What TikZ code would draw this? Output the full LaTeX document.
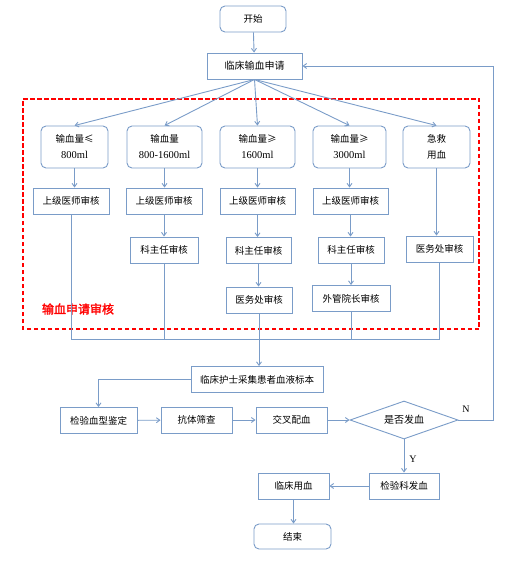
\documentclass[tikz,border=0pt]{standalone}
\usepackage{fontspec}
\setmainfont{Liberation Serif}
\newfontfamily\cjk[AutoFakeBold=2]{Noto Sans CJK SC}
\usetikzlibrary{shapes.geometric,arrows.meta}
\definecolor{flowblue}{HTML}{7A9CC8}
\definecolor{framered}{RGB}{255,0,0}
\tikzset{
  box/.style={draw=flowblue,line width=0.9pt,fill=white,inner sep=1pt,align=center,
    font=\cjk\fontsize{9.5}{16}\selectfont},
  rbox/.style={box,rounded corners=5pt},
  link/.style={draw=flowblue,line width=0.9pt},
  arr/.style={link,-{Straight Barb[length=3.5pt,width=5pt]}},
  frame/.style={color=framered,line width=1.1pt,dash pattern=on 4.5pt off 2.5pt}
}
\begin{document}
\begin{tikzpicture}[x=1pt,y=-1pt]
  \useasboundingbox (0,0) rectangle (523,561);
  % start and request
  \node[rbox,minimum width=66pt,minimum height=26pt] (start) at (253,19) {开始};
  \node[box,minimum width=95pt,minimum height=26pt,font=\cjk\fontsize{10}{12}\selectfont] (req) at (254.5,66) {临床输血申请};
  % amount of blood
  \foreach \name/\x/\w/\txt in {
    amt1/74.5/67/{输血量≤\\{\rmfamily\fontsize{10.5}{16}\selectfont 800ml}},
    amt2/164.5/75/{输血量\\{\rmfamily\fontsize{10.5}{16}\selectfont 800-1600ml}},
    amt3/257.5/75/{输血量≥\\{\rmfamily\fontsize{10.5}{16}\selectfont 1600ml}},
    amt4/349.5/73/{输血量≥\\{\rmfamily\fontsize{10.5}{16}\selectfont 3000ml}},
    amt5/436.5/67/{急救\\用血}} {
      \node[rbox,minimum width=\w pt,minimum height=42pt] (\name) at (\x,147) {\txt};
    }
  % review steps
  \foreach \name/\x/\y/\w/\txt in {
    sup1/71/201/76/上级医师审核,
    sup2/164/201/76/上级医师审核,
    sup3/257.5/201/75/上级医师审核,
    sup4/350.5/201/75/上级医师审核,
    dept2/164/250/68/科主任审核,
    dept3/258.5/250.5/65/科主任审核,
    dept4/351/250/66/科主任审核,
    med5/439.5/249/67/医务处审核,
    med3/259/300/66/医务处审核,
    dir4/351/298.5/78/外管院长审核} {
      \node[box,minimum width=\w pt,minimum height=26pt] (\name) at (\x,\y) {\txt};
    }
  % review frame
  \draw[frame] (23,99) -- (479,99) -- (479,329) -- (23,329) -- cycle;
  \node[text=framered,font=\cjk\bfseries\fontsize{12}{12}\selectfont] (title) at (78,309) {输血申请审核};
  % lab work
  \foreach \name/\x/\y/\w/\txt in {
    sample/257/379.5/132/临床护士采集患者血液标本,
    typing/98.5/420.5/77/检验血型鉴定,
    screen/196.5/420/71/抗体筛查,
    cross/291.5/420/71/交叉配血,
    release/404/486/70/检验科发血,
    use/293.5/486/71/临床用血} {
      \node[box,minimum width=\w pt,minimum height=26pt] (\name) at (\x,\y) {\txt};
    }
  \node[box,diamond,aspect=2.8,inner sep=0pt,minimum width=108pt,minimum height=38pt,
    font=\cjk\fontsize{10}{12}\selectfont] (issue) at (404,420) {是否发血};
  \node[rbox,minimum width=77pt,minimum height=25pt] (finish) at (292.5,536.5) {结束};
  % connectors
  \draw[arr] (start) -- (req);
  \foreach \i in {1,...,5} \draw[arr] (req.south) -- (amt\i.north);
  \foreach \a/\b in {amt1/sup1, amt2/sup2, amt3/sup3, amt4/sup4, amt5/med5,
    sup2/dept2, sup3/dept3, sup4/dept4, dept3/med3, dept4/dir4}
    \draw[arr] (\a.south) -- (\a.south |- \b.north);
  \coordinate (bus) at (0,339);
  \draw[link] (sup1.south) |- (med5.south |- bus) -- (med5.south);
  \draw[link] (dept2.south) -- (dept2.south |- bus);
  \draw[link] (dir4.south) -- (dir4.south |- bus);
  \draw[arr] (med3.south) -- (med3.south |- sample.north);
  \draw[arr] (sample.west) -| (typing.north);
  \draw[arr] (typing) -- (screen);
  \draw[arr] (screen) -- (cross);
  \draw[arr] (cross) -- (issue);
  \draw[arr] (issue.east) -- ++(35,0) |- (req.east);
  \draw[arr] (issue.south) -- (issue.south |- release.north);
  \draw[arr] (release) -- (use);
  \draw[arr] (use.south) -- (use.south |- finish.north);
  \node[font=\fontsize{10}{12}\selectfont] (nlab) at (466,409) {N};
  \node[font=\fontsize{10}{12}\selectfont] (ylab) at (413,459) {Y};
\end{tikzpicture}
\end{document}
